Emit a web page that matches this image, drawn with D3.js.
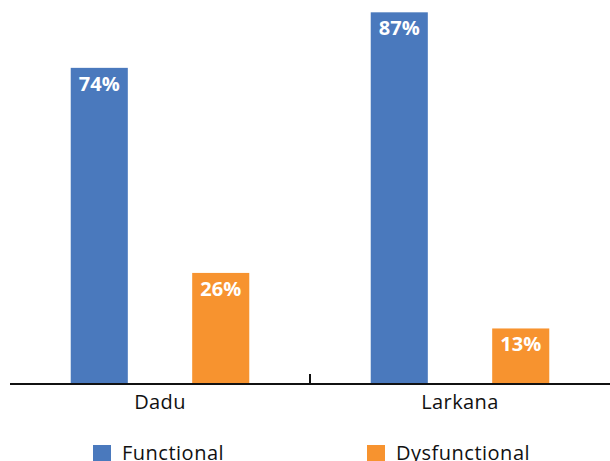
<!DOCTYPE html>
<html>
<head>
<meta charset="utf-8">
<script src="https://cdn.jsdelivr.net/npm/d3@7"></script>
<style>
  body { margin: 0; background: #fff; }
  text { font-family: "Open Sans", sans-serif; }
</style>
</head>
<body>
<div id="chart"></div>
<script>
// data
var districts = ["Dadu", "Larkana"];
var series = ["Functional", "Dysfunctional"];
var functionalPct = [74, 87];
var dysfunctionalPct = [26, 13];
var colors = ["#4a79bd", "#f7932f"];

var width = 610, height = 461;

var data = districts.map(function(d, i) {
  return {district: d, values: [
    {key: series[0], value: functionalPct[i]},
    {key: series[1], value: dysfunctionalPct[i]}
  ]};
});

var svg = d3.select("#chart")
  .append("svg")
  .attr("width", width)
  .attr("height", height);

var x0 = d3.scaleBand()
  .domain(districts)
  .range([10, 610])
  .padding(0);

var x1 = d3.scaleBand()
  .domain(series)
  .range([0, x0.bandwidth()])
  .paddingInner(0.53)
  .paddingOuter(0.5);

var y = d3.scaleLinear()
  .domain([0, 90])
  .range([384, -0.5]);

var color = d3.scaleOrdinal().domain(series).range(colors);

// bars
var groups = svg.selectAll("g.group")
  .data(data)
  .enter().append("g")
  .attr("class", "group")
  .attr("transform", function(d) { return "translate(" + x0(d.district) + ",0)"; });

groups.selectAll("rect")
  .data(function(d) { return d.values; })
  .enter().append("rect")
  .attr("x", function(d) { return x1(d.key); })
  .attr("y", function(d) { return y(d.value); })
  .attr("width", x1.bandwidth())
  .attr("height", function(d) { return y(0) - y(d.value) + 1; })
  .attr("fill", function(d) { return color(d.key); });

groups.selectAll("text.val")
  .data(function(d) { return d.values; })
  .enter().append("text")
  .attr("class", "val")
  .attr("x", function(d) { return x1(d.key) + x1.bandwidth() / 2; })
  .attr("y", function(d) { return y(d.value) + 23; })
  .attr("text-anchor", "middle")
  .attr("fill", "#fff")
  .attr("font-size", "20px")
  .attr("font-weight", "bold")
  .text(function(d) { return d.value + "%"; });

// x axis
var axis = svg.append("g")
  .attr("transform", "translate(0,384)")
  .call(d3.axisBottom(x0).tickSize(0).tickPadding(11));

axis.select(".domain")
  .attr("d", "M10,0H610")
  .attr("stroke", "#111")
  .attr("stroke-width", 2);

axis.selectAll(".tick text")
  .attr("font-family", "Open Sans")
  .attr("font-size", "20px")
  .attr("letter-spacing", "0.4px")
  .attr("fill", "#111");

// separator tick between groups
svg.append("line")
  .attr("x1", x0("Larkana"))
  .attr("x2", x0("Larkana"))
  .attr("y1", 374)
  .attr("y2", 384)
  .attr("stroke", "#111")
  .attr("stroke-width", 2);

// legend
var legendX = [93, 367];
var legend = svg.selectAll("g.legend")
  .data(series)
  .enter().append("g")
  .attr("class", "legend")
  .attr("transform", function(d, i) { return "translate(" + legendX[i] + ",445)"; });

legend.append("rect")
  .attr("width", 18)
  .attr("height", 18)
  .attr("fill", function(d) { return color(d); });

legend.append("text")
  .attr("x", 29)
  .attr("y", 15)
  .attr("font-size", "20px")
  .attr("letter-spacing", "0.5px")
  .attr("fill", "#111")
  .text(function(d) { return d; });
</script>
</body>
</html>
